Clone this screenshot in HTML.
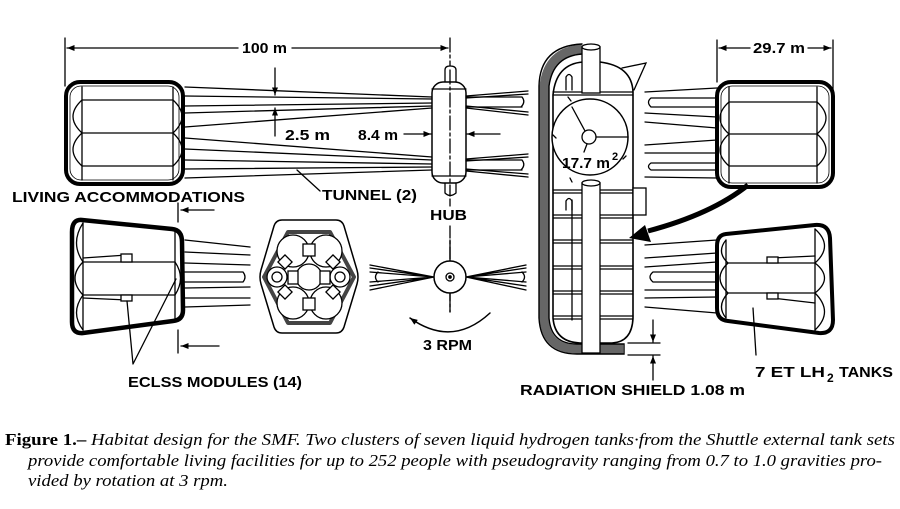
<!DOCTYPE html>
<html><head><meta charset="utf-8"><style>
html,body{margin:0;padding:0;background:#fff;}
svg{display:block;}
.l{font-family:"Liberation Sans",sans-serif;font-weight:bold;font-size:15px;fill:#000;stroke:none;}
.c{font-family:"Liberation Serif",serif;font-size:17px;fill:#000;stroke:none;}
</style></head><body>
<svg width="900" height="509" viewBox="0 0 900 509" xmlns="http://www.w3.org/2000/svg">
<defs>
<marker id="a" viewBox="0 0 10 8" refX="10" refY="4" markerWidth="9" markerHeight="6" orient="auto" markerUnits="userSpaceOnUse"><path d="M0,0L10,4L0,8z" fill="#000"/></marker>
</defs>
<rect width="900" height="509" fill="#fff"/>
<g fill="none" stroke="#000" stroke-width="1.3" stroke-linecap="round">

<!-- ===== Dimension 100 m ===== -->
<path d="M65 38 V86"/>
<path d="M238 48 H67" marker-end="url(#a)"/>
<path d="M292 48 H448" marker-end="url(#a)"/>
<!-- hub centerline -->
<path d="M450 38 V206" stroke-dasharray="14 3 3 3"/>
<path d="M450 226 V312" stroke-dasharray="12 3 3 3"/>

<!-- ===== Top-left cluster ===== -->
<rect x="66" y="82" width="117" height="102" rx="14" stroke-width="4"/>
<rect x="70" y="86" width="109" height="94" rx="11" stroke-width="0.8"/>
<path d="M82 87 V180 M173 87 V180 M82 100 H173 M82 133 H173 M82 166 H173"/>
<path d="M82 100 Q64 116.5 82 133 M82 133 Q64 149.5 82 166 M173 100 Q191 116.5 173 133 M173 133 Q191 149.5 173 166"/>

<!-- tunnel lines left -->
<path d="M185 87 L432 97 M185 96 L432 99 M185 106 L432 103 M185 113 L432 106 M185 127 L432 108"/>
<path d="M185 138 L432 157 M185 149 L432 160 M185 160 L432 164 M185 169 L432 167 M185 178 L432 170"/>
<!-- 2.5 m dimension -->
<path d="M275 68 V95" marker-end="url(#a)"/>
<path d="M275 136 V108" marker-end="url(#a)"/>
<!-- 8.4 m arrows -->
<path d="M404 134 H431" marker-end="url(#a)"/>
<path d="M500 134 H467" marker-end="url(#a)"/>
<!-- tunnel leader -->
<path d="M320 191 L297 170"/>

<!-- ===== Hub ===== -->
<path d="M445 82 V70 Q445 66 450 66 Q456 66 456 70 V82" fill="#fff"/>
<path d="M445 183 V193 Q450 198 456 193 V183" fill="#fff"/>
<rect x="432" y="82" width="34" height="101" rx="11" fill="#fff" stroke-width="1.5"/>
<path d="M432 89 H466 M432 176 H466"/>
<path d="M450 70 V196" stroke-dasharray="14 3 3 3"/>

<!-- tubes right of hub -->
<path d="M466 97 H522 M466 107 H522 M522 97 Q526 102 521 107"/>
<path d="M466 96 L528 91 M466 98 L528 94 M466 106 L528 112 M466 108 L528 115"/>
<path d="M466 160 H522 M466 170 H522 M522 160 Q526 165 521 170"/>
<path d="M466 159 L528 154 M466 161 L528 157 M466 169 L528 174 M466 171 L528 177"/>

<!-- ===== Vertical cluster (side view) ===== -->
<!-- floors -->
<path d="M553 92 H633 M553 95 H633 M553 190 H633 M553 193 H633 M553 215 H633 M553 218 H633 M553 240 H633 M553 243 H633 M553 266 H633 M553 269 H633 M553 291 H633 M553 294 H633 M553 316 H633 M553 319 H633"/>
<!-- vessel -->
<path d="M583 62 Q556 64 553 95 V318 Q555 342 580 343 H612 Q632 342 633 318 V92 Q632 66 600 62" stroke-width="1.6"/>
<!-- funnel -->
<path d="M622 68 L646 63 L634 90"/>
<!-- shield -->
<path d="M582 49 Q548 51 544 86 V318 Q546 349 577 349 H623" stroke="#666" stroke-width="9" stroke-linecap="butt"/>
<path d="M582 44 Q540 46 539 86 V318 Q541 354 577 354 H624 V344 H577 Q551 344 549 318 V86 Q553 56 582 54" stroke-width="1.4"/>
<!-- ladder line and loops -->
<path d="M572 200 V320"/>
<path d="M566 90 V77 Q569 72 572 77 V90"/>
<path d="M566 210 V201 Q569 196 572 201 V210"/>
<!-- circle -->
<circle cx="590" cy="137" r="38" fill="#fff" stroke-width="1.5"/>
<circle cx="589" cy="137" r="7" fill="#fff"/>
<path d="M585 131 L572 107 M596 137 H628 M587 144 L584 152"/>
<path d="M568 97 l3 4 M570 178 l2 4 M553 135 l3 3 M626 156 l-3 3"/>
<!-- tubes -->
<rect x="582" y="47" width="18" height="46" fill="#fff"/>
<ellipse cx="591" cy="47" rx="9" ry="3" fill="#fff"/>
<rect x="582" y="183" width="18" height="170" fill="#fff"/>
<ellipse cx="591" cy="183" rx="9" ry="3" fill="#fff"/>
<!-- side box -->
<rect x="633" y="188" width="13" height="27" fill="#fff"/>
<!-- radiation dim -->
<path d="M628 343 H660 M628 355 H660"/>
<path d="M653 320 V342" marker-end="url(#a)"/>
<path d="M653 380 V356" marker-end="url(#a)"/>

<!-- ===== Right upper fans & tubes ===== -->
<path d="M645 92 L717 88 M645 113 L717 117 M645 122 L717 128 M645 145 L717 140 M645 153 L717 153 M645 177 L717 178"/>
<path d="M717 98 H651 Q646 102 651 107 H717"/>
<path d="M717 163 H651 Q646 166.5 651 170 H717"/>

<!-- ===== Right top cluster ===== -->
<rect x="717" y="82" width="116" height="105" rx="14" stroke-width="4"/>
<rect x="721" y="86" width="108" height="97" rx="11" stroke-width="0.8"/>
<path d="M729 87 V183 M817 87 V183 M729 102 H817 M729 134 H817 M729 166 H817"/>
<path d="M729 102 Q711 118 729 134 M729 134 Q711 150 729 166 M817 102 Q835 118 817 134 M817 134 Q835 150 817 166"/>
<path d="M717 40 V82 M833 40 V90"/>
<path d="M750 48 H719" marker-end="url(#a)"/>
<path d="M808 48 H831" marker-end="url(#a)"/>

<!-- thick arrow -->
<path d="M748 185 Q712 214 648 231" stroke-width="5" stroke-linecap="butt"/>
<path d="M629 238 L645 225 L651 242 Z" fill="#000" stroke="none"/>

<!-- ===== Right lower fans ===== -->
<path d="M645 245 L717 240 M645 258 L717 253 M645 267 L717 262 M645 290 L717 290 M645 298 L717 297 M645 307 L717 313"/>
<path d="M718 272 H653 Q647 277 653 282 H718"/>

<!-- ===== Right lower cluster ===== -->
<path d="M726 234 L815 225 Q829 224 830 238 L833 320 Q833 334 819 333 L728 321 Q717 320 717 308 V246 Q717 235 726 234 Z" stroke-width="4" stroke-linejoin="round"/>
<path d="M726 240 V318 M815 229 V330 M728 263 H815 M728 293 H815"/>
<path d="M728 263 Q712 278 728 293 M726 240 Q716 252 728 263 M728 293 Q716 306 726 318 M815 263 Q834 278 815 293 M815 229 Q834 246 815 263 M815 293 Q834 312 815 330"/>
<path d="M772 258 L815 256 M772 298 L815 303"/>
<rect x="767" y="257" width="11" height="6" fill="#fff"/>
<rect x="767" y="293" width="11" height="6" fill="#fff"/>
<path d="M753 308 L756 355"/>

<!-- ===== Left lower cluster ===== -->
<path d="M82 220 L172 229 Q182 230 182 242 L183 310 Q183 320 173 321 L83 333 Q72 334 72 322 V232 Q72 219 82 220 Z" stroke-width="4.5" stroke-linejoin="round"/>
<path d="M83 223 V330 M175 231 V319 M83 262 H175 M83 295 H175"/>
<path d="M83 262 Q67 278 83 295 M83 223 Q70 243 83 262 M83 295 Q70 313 83 330 M175 262 Q186 278 175 295"/>
<path d="M127 255 L83 258 M127 300 L83 298"/>
<rect x="121" y="254" width="11" height="8" fill="#fff"/>
<rect x="121" y="295" width="11" height="6" fill="#fff"/>
<path d="M133 364 L127 301 M133 364 L176 279"/>
<!-- fans -->
<path d="M185 240 L250 247 M185 252 L250 255 M185 263 L250 265 M185 288 L250 287 M185 298 L250 298 M185 307 L250 305"/>
<path d="M183 272 H243 Q247 277 243 282 H183"/>
<!-- side arrows -->
<path d="M178 203 V222"/>
<path d="M214 210 H181" marker-end="url(#a)"/>
<path d="M178 330 V353"/>
<path d="M219 346 H181" marker-end="url(#a)"/>

<!-- ===== Hexagon end view ===== -->
<path d="M282 220 H336 Q342 220 344 226 L357 270 Q359 277 357 284 L344 327 Q342 333 336 333 H282 Q276 333 274 327 L261 284 Q259 277 261 270 L274 226 Q276 220 282 220 Z" stroke-width="1.5"/>
<path d="M288 232 H330 L354 277 L330 323 H288 L264 277 Z" stroke="#444" stroke-width="4" stroke-linejoin="round"/>
<circle cx="293" cy="251" r="16" fill="#fff"/>
<circle cx="326" cy="251" r="16" fill="#fff"/>
<circle cx="293" cy="303" r="16" fill="#fff"/>
<circle cx="326" cy="303" r="16" fill="#fff"/>
<circle cx="309" cy="277" r="13" fill="#fff"/>
<circle cx="277" cy="277" r="10" fill="#fff"/>
<circle cx="277" cy="277" r="5"/>
<circle cx="340" cy="277" r="10" fill="#fff"/>
<circle cx="340" cy="277" r="5"/>
<rect x="303" y="244" width="12" height="12" fill="#fff"/>
<rect x="303" y="298" width="12" height="12" fill="#fff"/>
<rect x="288" y="271" width="10" height="13" fill="#fff"/>
<rect x="320" y="271" width="10" height="13" fill="#fff"/>
<rect x="280" y="257" width="10" height="10" fill="#fff" transform="rotate(45 285 262)"/>
<rect x="328" y="257" width="10" height="10" fill="#fff" transform="rotate(-45 333 262)"/>
<rect x="280" y="287" width="10" height="10" fill="#fff" transform="rotate(-45 285 292)"/>
<rect x="328" y="287" width="10" height="10" fill="#fff" transform="rotate(45 333 292)"/>

<!-- ===== Hub end view ===== -->
<path d="M434 277 L370 265 M434 277 L370 268 M434 277 L370 272 M434 277 L370 282 M434 277 L370 286 M434 277 L370 290"/>
<path d="M378 272 Q373 277 378 282"/>
<path d="M466 277 L526 265 M466 277 L526 268 M466 277 L526 272 M466 277 L526 282 M466 277 L526 286 M466 277 L526 290"/>
<path d="M522 272 Q527 277 522 282"/>
<circle cx="450" cy="277" r="16" fill="#fff" stroke-width="1.5"/>
<circle cx="450" cy="277" r="4"/>
<circle cx="450" cy="277" r="1.2" fill="#000"/>
<path d="M450 293 V312 M450 261 V240"/>
<!-- 3 RPM arc -->
<path d="M490 313 Q452 348 410 318" stroke-width="1.5" marker-end="url(#a)"/>
</g>

<!-- ===== Labels ===== -->
<text class="l" x="242" y="53" textLength="45" lengthAdjust="spacingAndGlyphs">100 m</text>
<text class="l" x="285" y="140" textLength="45" lengthAdjust="spacingAndGlyphs">2.5 m</text>
<text class="l" x="358" y="140" textLength="40" lengthAdjust="spacingAndGlyphs">8.4 m</text>
<text class="l" x="12" y="202" textLength="233" lengthAdjust="spacingAndGlyphs">LIVING ACCOMMODATIONS</text>
<text class="l" x="322" y="200" textLength="95" lengthAdjust="spacingAndGlyphs">TUNNEL (2)</text>
<text class="l" x="430" y="220" textLength="37" lengthAdjust="spacingAndGlyphs">HUB</text>
<text class="l" x="562" y="168" textLength="48" lengthAdjust="spacingAndGlyphs">17.7 m</text>
<text class="l" x="612" y="160" style="font-size:11px">2</text>
<text class="l" x="753" y="53" textLength="52" lengthAdjust="spacingAndGlyphs">29.7 m</text>
<text class="l" x="423" y="350" textLength="49" lengthAdjust="spacingAndGlyphs">3 RPM</text>
<text class="l" x="128" y="387" textLength="174" lengthAdjust="spacingAndGlyphs">ECLSS MODULES (14)</text>
<text class="l" x="520" y="395" textLength="225" lengthAdjust="spacingAndGlyphs">RADIATION SHIELD 1.08 m</text>
<text class="l" x="755" y="377" textLength="70" lengthAdjust="spacingAndGlyphs">7 ET LH</text>
<text class="l" x="827" y="382" style="font-size:12px">2</text>
<text class="l" x="839" y="377" textLength="54" lengthAdjust="spacingAndGlyphs">TANKS</text>

<!-- ===== Caption ===== -->
<text class="c" x="5" y="445" textLength="890" lengthAdjust="spacingAndGlyphs"><tspan font-weight="bold">Figure 1.–</tspan><tspan font-style="italic"> Habitat design for the SMF. Two clusters of seven liquid hydrogen tanks·from the Shuttle external tank sets</tspan></text>
<text class="c" x="28" y="466" font-style="italic" textLength="854" lengthAdjust="spacingAndGlyphs">provide comfortable living facilities for up to 252 people with pseudogravity ranging from 0.7 to 1.0  gravities pro-</text>
<text class="c" x="28" y="486" font-style="italic" textLength="200" lengthAdjust="spacingAndGlyphs">vided by rotation at 3 rpm.</text>
</svg>
</body></html>
